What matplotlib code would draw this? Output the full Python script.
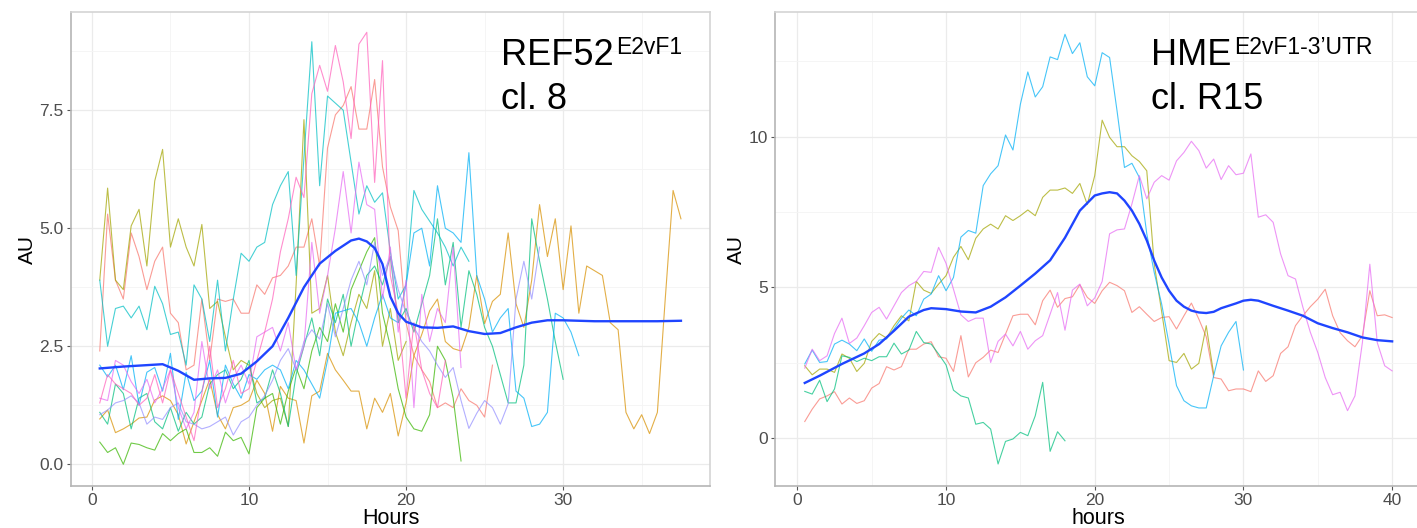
import numpy as np
import matplotlib
matplotlib.use("Agg")
import matplotlib.pyplot as plt
from matplotlib.ticker import MultipleLocator

plt.rcParams['font.family'] = ['Liberation Sans', 'DejaVu Sans']

# -----------------------
# DATA: left panel (REF52 cl. 8), one value every 0.5 h from 0.5 h
# -----------------------
ref_red = [2.4, 5.3, 3.9, 3.5, 4.9, 4.4, 3.7, 4.3, 4.6, 3.2, 3.0, 2.0, 2.1, 3.5, 2.2, 3.5, 3.45,
           3.5, 3.2, 3.2, 3.8, 3.6, 3.95, 4.0, 4.2, 4.6, 4.6, 5.2, 4.2, 6.7, 7.4, 7.6, 8.0, 7.1,
           7.1, 8.15, 6.3, 5.45, 4.95, 3.0, 2.3, 2.0, 1.75, 1.2, 1.3, 1.2, 1.6, 1.35, 1.25, 1.0, 2.1]
ref_orange = [0.96, 1.15, 0.67, 0.75, 0.85, 0.98, 1.0, 1.36, 1.45, 1.35,
              1.05, 0.43, 0.9, 1.35, 1.8, 1.05, 0.75, 1.2, 1.25, 1.35,
              1.78, 1.5, 0.7, 1.65, 1.4, 1.35, 0.45, 1.45, 1.55, 2.35,
              2.0, 1.78, 1.55, 1.55, 0.75, 1.4, 1.1, 1.5, 0.6, 1.3,
              2.3, 2.75, 3.25, 3.5, 2.6, 2.45, 2.4, 2.9, 4.0, 2.98,
              3.45, 3.6, 4.9, 3.4, 2.9, 3.9, 5.5, 4.4, 5.2, 3.7,
              5.05, 3.2, 4.2, 4.1, 4.0, 3.0, 2.85, 1.1, 0.75, 1.05,
              0.65, 1.1, 3.5, 5.8, 5.2]
ref_olive = [3.9, 5.85, 3.9, 3.7, 5.05, 5.4, 4.2, 6.0, 6.67, 4.6, 5.2, 4.6, 4.2, 5.08, 3.3,
             3.45, 2.7, 2.0, 2.2, 2.1, 1.5, 1.2, 1.35, 1.4, 0.8, 3.8, 7.3, 3.2, 3.3, 4.0,
             2.8, 2.3, 3.0, 3.6, 3.3, 4.1, 2.5, 3.3, 2.2, 2.6]
ref_green = [0.47, 0.25, 0.35, 0.0, 0.45, 0.42, 0.35, 0.3, 0.65, 0.5,
             0.65, 0.75, 0.25, 0.25, 0.35, 0.17, 0.68, 0.5, 0.57, 0.22,
             1.2, 1.4, 1.5, 0.85, 1.55, 2.05, 1.6, 2.4, 2.9, 2.6,
             3.4, 2.8, 3.7, 4.1, 4.5, 4.8, 3.2, 2.5, 1.6, 1.0,
             0.75, 0.7, 1.05, 2.5, 2.2, 1.4, 0.07]
ref_teal = [1.1, 0.85, 1.7, 1.5, 0.75, 1.4, 1.5, 0.9, 0.75, 1.2,
            0.7, 1.1, 0.85, 1.0, 1.7, 1.9, 2.0, 1.6, 1.8, 2.2,
            1.3, 1.4, 2.0, 1.5, 0.8, 1.9, 2.5, 3.1, 2.3, 3.5,
            3.0, 3.6, 2.5, 3.3, 4.0, 4.2, 3.8, 4.4, 3.0, 3.3,
            2.8, 3.4, 4.0, 5.2, 3.8, 4.7, 2.9, 4.1, 3.6, 2.9,
            2.5, 1.9, 1.3, 1.3, 2.1, 5.2, 4.3, 3.5, 2.6, 1.8]
ref_cyan = [3.9, 2.5, 3.3, 3.35, 3.1, 3.35, 2.85, 3.77, 3.4, 2.75, 2.8, 2.1, 3.8, 3.5, 2.6,
            3.9, 2.4, 3.5, 4.47, 4.3, 4.6, 4.7, 5.5, 5.9, 6.2, 4.0, 6.5, 8.95, 5.9, 7.8,
            7.65, 7.5, 6.4, 5.3, 5.9, 5.55, 5.75, 4.5, 3.5, 3.8, 5.8, 5.4, 5.15, 4.9, 4.6,
            4.2, 4.6, 4.3]
ref_blue = [2.1, 1.85, 2.1, 1.58, 2.3, 1.25, 1.95, 2.05, 1.55, 2.35,
            0.95, 1.95, 1.35, 1.55, 2.2, 1.0, 2.1, 1.7, 1.4, 1.9,
            1.8, 2.0, 2.1, 2.0, 1.6, 2.2, 2.0, 1.7, 1.4, 2.2,
            3.2, 3.25, 3.3, 3.0, 2.5, 3.1, 3.6, 3.1, 3.0, 3.8,
            4.9, 5.0, 4.2, 5.9, 5.0, 4.9, 4.7, 6.6, 4.0, 3.5,
            2.8, 3.1, 3.3, 1.55, 1.4, 0.8, 0.85, 1.1, 3.2, 3.1,
            2.8, 2.3]
ref_purple = [1.05, 1.15, 1.3, 1.35, 1.45, 1.3, 0.85, 1.0, 0.95, 1.2,
              1.3, 0.9, 0.85, 0.75, 0.8, 0.9, 1.0, 0.62, 0.9, 1.0,
              1.25, 1.45, 1.78, 2.2, 2.45, 2.0, 2.6, 2.85, 2.65, 3.4,
              2.7, 3.3, 3.9, 4.3, 3.8, 4.7, 4.0, 4.4, 3.7, 3.2,
              2.9, 2.6, 2.4, 2.1, 1.84, 2.05, 1.35, 0.76, 1.08, 1.35,
              1.2, 0.85, 1.28, 3.5, 4.3, 3.5, 4.6]
ref_magenta = [1.4, 1.35, 2.2, 2.1, 1.75, 1.5, 1.8, 1.3, 1.6, 2.0,
               1.2, 0.75, 1.1, 2.6, 1.6, 2.0, 1.3, 1.8, 2.1, 1.7,
               2.7, 2.8, 2.9, 2.4, 3.0, 2.0, 2.5, 4.7, 3.2, 4.0,
               5.0, 6.2, 4.9, 6.4, 5.5, 5.4, 3.5, 4.6, 2.8, 3.9,
               1.2, 3.6, 2.6, 3.3, 3.0, 4.6, 2.05]
ref_pink = [1.3, 1.9, 1.7, 1.6, 1.5, 1.25, 1.4, 1.9, 1.3, 2.0,
            1.5, 1.0, 0.5, 1.5, 2.5, 1.2, 1.6, 2.2, 1.5, 1.6,
            2.2, 2.8, 3.5, 4.5, 5.2, 6.08, 5.65, 7.85, 8.45, 7.9,
            8.87, 8.1, 6.9, 8.9, 9.15, 5.97, 8.55, 4.0, 3.2, 1.4,
            3.0, 2.0, 1.5, 1.2, 2.2]

ref_tracks = [ref_red, ref_orange, ref_olive, ref_green, ref_teal,
              ref_cyan, ref_blue, ref_purple, ref_magenta, ref_pink]
ref_colors = ['#F8766D', '#D89000', '#A3A500', '#39B600', '#00BF7D',
              '#00BFC4', '#00B0F6', '#9590FF', '#E76BF3', '#FF62BC']

# loess fit
ref_fit_h = [0.5, 2, 3.5, 4.5, 5.5, 6.5, 7.5, 8.5, 9.5, 10.5, 11.5, 12.5, 13.5, 14.5, 15.5,
             16.5, 17, 17.5, 18, 18.5, 19, 19.5, 20, 21, 22, 23, 24, 25, 26, 27, 28, 29, 30,
             32, 34, 36, 37.5]
ref_fit = [2.03, 2.07, 2.1, 2.12, 1.98, 1.79, 1.82, 1.83, 1.92, 2.18, 2.5, 3.1, 3.75, 4.25,
           4.52, 4.74, 4.78, 4.72, 4.58, 4.24, 3.55, 3.2, 3.02, 2.9, 2.89, 2.92, 2.82, 2.76,
           2.78, 2.9, 3.0, 3.05, 3.05, 3.03, 3.03, 3.03, 3.04]

# -----------------------
# DATA: right panel (HME cl. R15)
# -----------------------
hme_red = [0.55, 0.96, 1.3, 1.4, 1.54, 1.13, 1.33, 1.15, 1.24, 1.66,
           1.81, 2.37, 2.26, 2.37, 2.95, 2.95, 3.12, 3.2, 2.7, 2.65,
           2.21, 3.4, 2.03, 2.5, 2.68, 2.92, 2.84, 3.45, 4.06, 4.11,
           4.11, 3.76, 4.56, 4.91, 4.34, 4.63, 4.69, 5.09, 4.67, 4.47,
           4.89, 5.17, 5.06, 4.89, 4.17, 4.36, 4.11, 3.87, 4.0, 4.03,
           3.62, 4.06, 4.48, 3.95, 3.36, 2.01, 1.96, 1.57, 1.63, 1.63,
           1.54, 2.23, 1.88, 2.07, 2.81, 3.03, 3.73, 4.06, 4.36, 4.61,
           4.94, 4.06, 3.5, 3.23, 3.03, 3.4, 4.89, 4.06, 4.09, 4.0]
hme_olive = [2.4, 2.1, 2.29, 2.29, 2.18, 2.79, 2.65, 2.21, 2.48, 3.21,
             3.47, 3.32, 3.73, 4.06, 3.89, 5.2, 4.91, 4.8, 5.11, 5.39,
             6.0, 6.36, 5.92, 6.63, 6.94, 7.1, 6.94, 7.38, 7.22, 7.38,
             7.57, 7.38, 7.99, 8.23, 8.23, 8.3, 8.12, 8.45, 7.75, 8.71,
             10.55, 9.98, 9.67, 9.67, 9.37, 9.18, 8.87, 5.78, 4.2, 2.57,
             2.51, 2.81, 2.29, 2.48, 3.73, 2.12]
hme_green = [1.55, 1.46, 1.92, 1.21, 1.63, 2.73, 2.68, 2.54, 2.65, 2.57,
             2.7, 2.7, 3.15, 2.79, 2.92, 3.54, 3.17, 3.12, 2.79, 2.43,
             1.59, 1.4, 1.33, 0.46, 0.52, 0.3, -0.86, -0.11, -0.03, 0.19,
             0.08, 0.74, 1.85, -0.44, 0.21, -0.09]
hme_blue = [2.46, 2.92, 2.51, 2.54, 3.12, 3.25, 3.12, 2.9, 3.29, 2.88,
            3.25, 3.29, 3.62, 3.98, 4.25, 4.06, 4.61, 4.78, 5.39, 4.89,
            5.33, 6.67, 6.89, 6.8, 8.38, 8.77, 9.04, 10.06, 9.56, 11.08,
            12.15, 11.32, 11.66, 12.65, 12.56, 13.4, 12.76, 13.12, 11.99, 11.69,
            12.79, 12.63, 10.86, 8.98, 9.12, 8.65, 6.78, 5.5, 4.45, 3.12,
            1.74, 1.24, 1.07, 1.0, 1.0, 2.07, 3.06, 3.51, 3.87, 2.26]
hme_magenta = [2.32, 2.95, 2.57, 2.73, 3.47, 3.98, 3.14, 3.32, 3.73, 4.17,
               4.34, 3.95, 4.39, 4.83, 5.06, 5.2, 5.53, 5.5, 6.33, 5.8,
               4.94, 4.09, 3.87, 3.98, 3.98, 2.51, 3.21, 3.45, 3.06, 3.54,
               2.95, 3.23, 3.4, 4.11, 4.83, 3.58, 4.91, 5.11, 4.39, 4.65,
               5.2, 6.78, 6.91, 6.94, 7.77, 8.71, 7.94, 8.49, 8.71, 8.56,
               9.2, 9.48, 9.85, 9.54, 8.96, 9.26, 8.58, 9.04, 8.74, 8.79,
               9.43, 7.33, 7.41, 7.16, 6.11, 5.39, 5.28, 4.34, 3.51, 2.84,
               2.01, 1.44, 1.52, 0.91, 1.4, 3.17, 5.77, 3.17, 2.4, 2.23]

hme_tracks = [hme_red, hme_olive, hme_green, hme_blue, hme_magenta]
hme_colors = ['#F8766D', '#A3A500', '#00BF7D', '#00B0F6', '#E76BF3']

hme_fit_h = [0.5, 1.5, 3, 4.5, 5.5, 6.5, 7.5, 8.5, 9, 10, 11, 12, 13, 14, 15, 16, 17, 18, 19,
             20, 20.5, 21, 21.5, 22, 22.5, 23, 23.5, 24, 24.5, 25, 25.5, 26, 26.5, 27, 27.5,
             28, 28.5, 29, 29.5, 30, 30.5, 31, 32, 33, 34, 35, 36, 37, 38, 39, 40]
hme_fit = [1.83, 2.07, 2.46, 2.81, 3.12, 3.56, 4.03, 4.25, 4.31, 4.28, 4.2, 4.17, 4.36, 4.67,
           5.06, 5.46, 5.9, 6.65, 7.55, 8.05, 8.12, 8.16, 8.12, 7.88, 7.55, 7.11, 6.56, 5.89,
           5.33, 4.89, 4.56, 4.36, 4.23, 4.17, 4.15, 4.19, 4.31, 4.39, 4.47, 4.56, 4.59, 4.56,
           4.39, 4.23, 4.06, 3.81, 3.65, 3.51, 3.34, 3.25, 3.21]


def hours(vals):
    # samples every half hour, first one at 0.5 h
    return 0.5 + 0.5 * np.arange(len(vals))


# -----------------------
# FIGURE
# -----------------------
W, H = 1417, 528
fig = plt.figure(figsize=(W / 100, H / 100), dpi=100)


def px_axes(x0, y0, x1, y1):
    return fig.add_axes([x0 / W, 1 - y1 / H, (x1 - x0) / W, (y1 - y0) / H])


def style(ax, xlim, ylim, ystep):
    ax.set_xlim(*xlim)
    ax.set_ylim(*ylim)
    ax.xaxis.set_major_locator(MultipleLocator(10))
    ax.xaxis.set_minor_locator(MultipleLocator(5))
    ax.yaxis.set_major_locator(MultipleLocator(ystep))
    ax.yaxis.set_minor_locator(MultipleLocator(ystep / 2))
    ax.grid(which='major', color='#ebebeb', lw=0.9)
    ax.grid(which='minor', color='#f4f4f4', lw=0.6)
    ax.set_axisbelow(True)
    ax.tick_params(which='major', length=3, width=0.8, color='#555555',
                   labelsize=12.5, labelcolor='#4d4d4d', pad=2)
    ax.tick_params(which='minor', length=0)
    for side in ['top', 'right']:
        ax.spines[side].set_color('#d4d4d4')
        ax.spines[side].set_linewidth(1.2)
    for side in ['left', 'bottom']:
        ax.spines[side].set_color('#b5b5b5')
        ax.spines[side].set_linewidth(1.2)


ax1 = px_axes(70.7, 12, 710, 486)
for vals, c in zip(ref_tracks, ref_colors):
    ax1.plot(hours(vals), vals, color=c, lw=0.8, alpha=0.72)
ax1.plot(ref_fit_h, ref_fit, color='#1f45ff', lw=1.7)
style(ax1, (-1.35, 39.35), (-0.46, 9.58), 2.5)

ax2 = px_axes(775.4, 12, 1421.5, 486)
for vals, c in zip(hme_tracks, hme_colors):
    ax2.plot(hours(vals), vals, color=c, lw=0.8, alpha=0.72)
ax2.plot(hme_fit_h, hme_fit, color='#1f45ff', lw=1.7)
style(ax2, (-1.475, 41.975), (-1.59, 14.14), 5)


def ftext(x, y, s, **kw):
    return fig.text(x / W, 1 - y / H, s, **kw)


# axis titles
ftext(27, 249, 'AU', fontsize=15, rotation=90, ha='center', va='center')
ftext(736.5, 249, 'AU', fontsize=15, rotation=90, ha='center', va='center')
ftext(391, 524, 'Hours', fontsize=15.5, ha='center', va='baseline')
ftext(1098, 524, 'hours', fontsize=15.5, ha='center', va='baseline')

# panel labels
ftext(501, 65, 'REF52', fontsize=26, va='baseline')
ftext(616, 54.5, 'E2vF1', fontsize=16.5, va='baseline')
ftext(501, 109, 'cl. 8', fontsize=26, va='baseline')

ftext(1151, 65, 'HME', fontsize=26, va='baseline')
ftext(1234, 54.5, 'E2vF1-3\u2019UTR', fontsize=16.5, va='baseline')
ftext(1151, 109, 'cl. R15', fontsize=26, va='baseline')

fig.savefig('out.png', dpi=100)
